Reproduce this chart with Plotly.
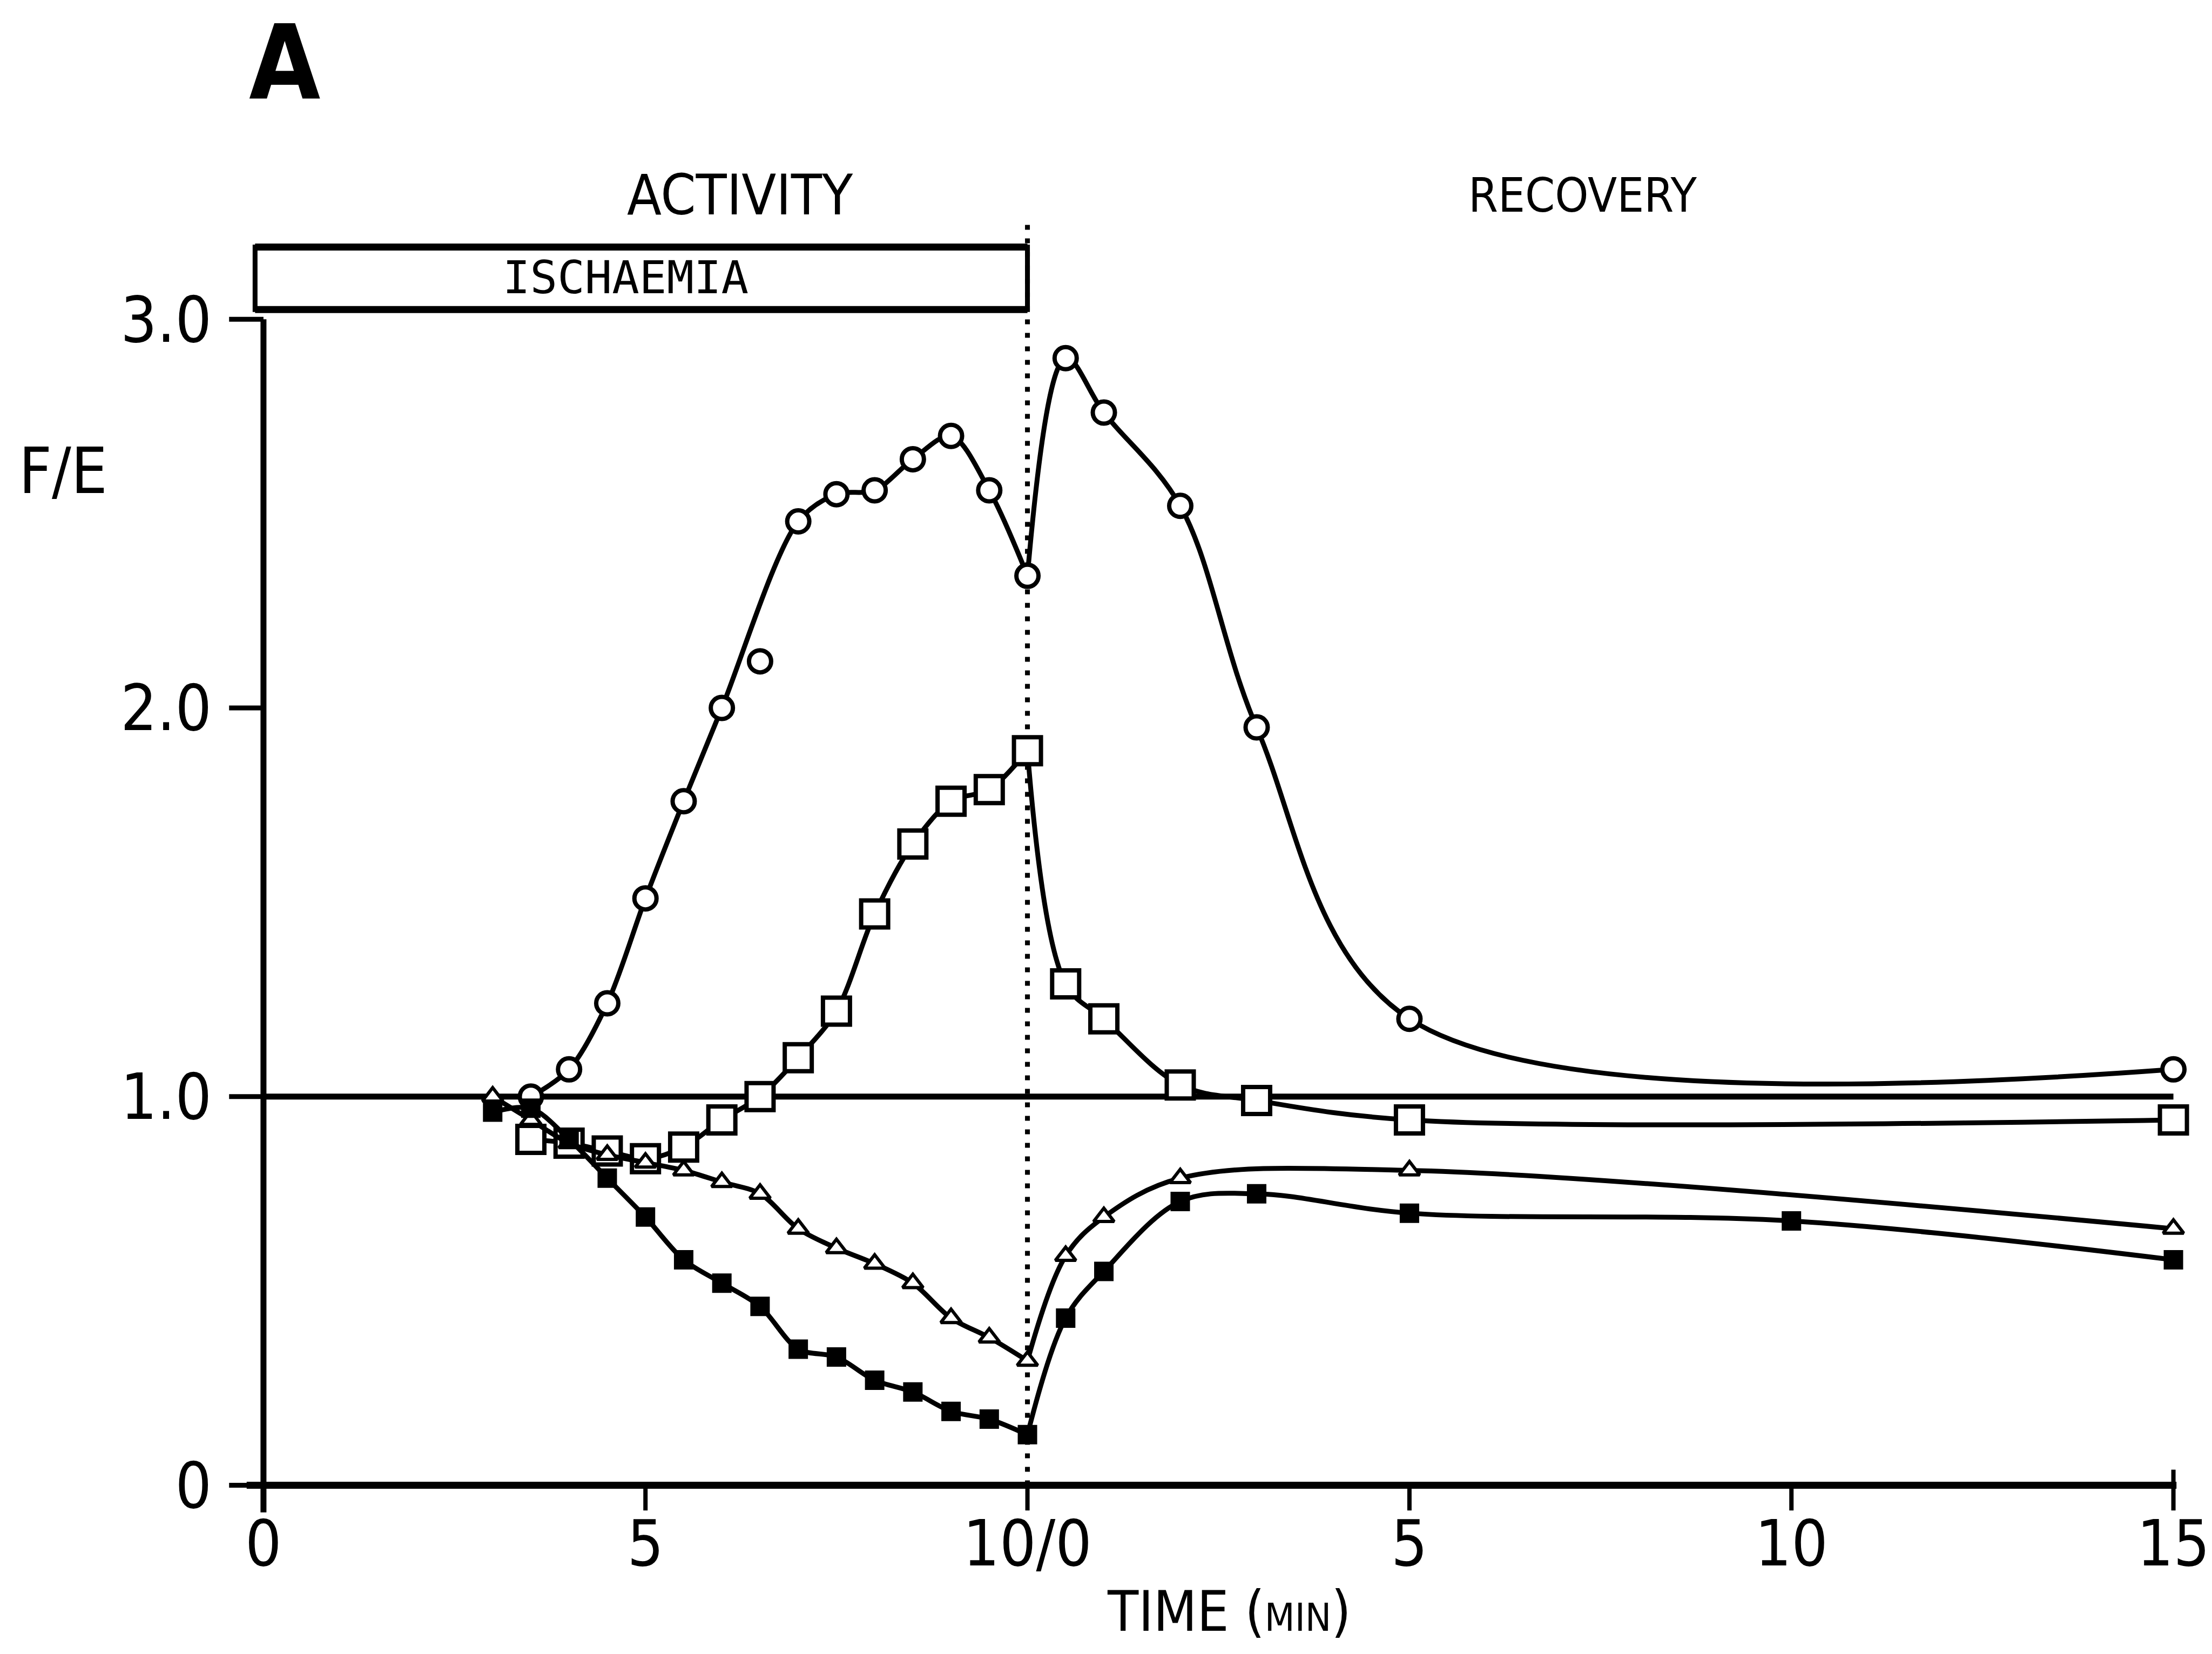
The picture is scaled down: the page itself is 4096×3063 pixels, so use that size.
import plotly.graph_objects as go

# Time axis: 10 min of ischaemia (activity), then the recovery clock restarts at 0
ACTIVITY_LENGTH = 10

X_TICKS = [0, 5, 10, 15, 20, 25]
X_TICK_TEXT = ["0", "5", "10/0", "5", "10", "15"]
Y_TICKS = [0, 1, 2, 3]
Y_TICK_TEXT = ["0", "1.0", "2.0", "3.0"]
REFERENCE_LEVEL = 1.0

# Open circles
CIRCLE_ACT_T = [3.5, 4, 4.5, 5, 5.5, 6, 6.5, 7, 7.5, 8, 8.5, 9, 9.5, 10]
CIRCLE_ACT_FE = [1.00, 1.07, 1.24, 1.51, 1.76, 2.00, 2.12, 2.48, 2.55, 2.56, 2.64, 2.70, 2.56, 2.34]
CIRCLE_REC_T = [0.5, 1, 2, 3, 5, 15]
CIRCLE_REC_FE = [2.90, 2.76, 2.52, 1.95, 1.20, 1.07]
CIRCLE_OFF_CURVE_T = [6.5]   # plotted, but left out of the fitted curve

# Open squares
SQUARE_ACT_T = [3.5, 4, 4.5, 5, 5.5, 6, 6.5, 7, 7.5, 8, 8.5, 9, 9.5, 10]
SQUARE_ACT_FE = [0.89, 0.88, 0.86, 0.84, 0.87, 0.94, 1.00, 1.10, 1.22, 1.47, 1.65, 1.76, 1.79, 1.89]
SQUARE_REC_T = [0.5, 1, 2, 3, 5, 15]
SQUARE_REC_FE = [1.29, 1.20, 1.03, 0.99, 0.94, 0.94]

# Open triangles
TRIANGLE_ACT_T = [3, 3.5, 4, 4.5, 5, 5.5, 6, 6.5, 7, 7.5, 8, 8.5, 9, 9.5, 10]
TRIANGLE_ACT_FE = [1.00, 0.94, 0.88, 0.85, 0.83, 0.81, 0.78, 0.75, 0.66, 0.61, 0.57, 0.52, 0.43, 0.38, 0.32]
TRIANGLE_REC_T = [0.5, 1, 2, 5, 15]
TRIANGLE_REC_FE = [0.59, 0.69, 0.79, 0.81, 0.66]

# Filled squares
FILLED_ACT_T = [3, 3.5, 4, 4.5, 5, 5.5, 6, 6.5, 7, 7.5, 8, 8.5, 9, 9.5, 10]
FILLED_ACT_FE = [0.96, 0.97, 0.89, 0.79, 0.69, 0.58, 0.52, 0.46, 0.35, 0.33, 0.27, 0.24, 0.19, 0.17, 0.13]
FILLED_REC_T = [0.5, 1, 2, 3, 5, 10, 15]
FILLED_REC_FE = [0.43, 0.55, 0.73, 0.75, 0.70, 0.68, 0.58]

NARROW = "Liberation Sans Narrow, Arial Narrow, DejaVu Sans Condensed, Liberation Sans, sans-serif"
MONO = "DejaVu Sans Mono, Liberation Mono, monospace"
INK = "black"
CURVE_W = 9

X_RANGE = [-0.6, 25.3]
Y_RANGE = [-0.08, 3.32]

fig = go.Figure()


def add_series(act_t, act_fe, rec_t, rec_fe, marker, skip=()):
    rec_x = [ACTIVITY_LENGTH + t for t in rec_t]
    # fitted curve during ischaemia
    cx = [t for t in act_t if t not in skip]
    cy = [v for t, v in zip(act_t, act_fe) if t not in skip]
    fig.add_trace(go.Scatter(x=cx, y=cy, mode="lines",
                             line=dict(color=INK, width=CURVE_W, shape="spline", smoothing=0.9),
                             hoverinfo="skip", showlegend=False))
    # fitted curve during recovery, starting from the last ischaemic value
    fig.add_trace(go.Scatter(x=[act_t[-1]] + rec_x, y=[act_fe[-1]] + rec_fe, mode="lines",
                             line=dict(color=INK, width=CURVE_W, shape="spline", smoothing=1.0),
                             hoverinfo="skip", showlegend=False))
    fig.add_trace(go.Scatter(x=list(act_t) + rec_x, y=list(act_fe) + rec_fe, mode="markers",
                             marker=marker, cliponaxis=False, hoverinfo="skip", showlegend=False))


add_series(CIRCLE_ACT_T, CIRCLE_ACT_FE, CIRCLE_REC_T, CIRCLE_REC_FE,
           dict(symbol="circle", size=41, color="white", line=dict(color=INK, width=8)),
           skip=CIRCLE_OFF_CURVE_T)
add_series(SQUARE_ACT_T, SQUARE_ACT_FE, SQUARE_REC_T, SQUARE_REC_FE,
           dict(symbol="square", size=50, color="white", line=dict(color=INK, width=8)))
add_series(TRIANGLE_ACT_T, TRIANGLE_ACT_FE, TRIANGLE_REC_T, TRIANGLE_REC_FE,
           dict(symbol="triangle-up", size=33, color="white", line=dict(color=INK, width=6)))
add_series(FILLED_ACT_T, FILLED_ACT_FE, FILLED_REC_T, FILLED_REC_FE,
           dict(symbol="square", size=33, color=INK, line=dict(color=INK, width=3)))

x_end = X_TICKS[-1]
shapes = [
    # reference level F/E = 1
    dict(type="line", x0=0, x1=x_end, y0=REFERENCE_LEVEL, y1=REFERENCE_LEVEL,
         line=dict(color=INK, width=11), layer="below"),
    # end of ischaemia / start of recovery
    dict(type="line", x0=ACTIVITY_LENGTH, x1=ACTIVITY_LENGTH, y0=0, y1=3.26,
         line=dict(color=INK, width=9, dash="9px,16px"), layer="below"),
    # ischaemia bar
    dict(type="rect", x0=-0.11, x1=ACTIVITY_LENGTH, y0=3.025, y1=3.186,
         line=dict(color=INK, width=9), fillcolor="rgba(0,0,0,0)"),
    dict(type="line", x0=-0.11, x1=ACTIVITY_LENGTH, y0=3.186, y1=3.186, line=dict(color=INK, width=13)),
    dict(type="line", x0=-0.11, x1=ACTIVITY_LENGTH, y0=3.025, y1=3.025, line=dict(color=INK, width=13)),
    # axes
    dict(type="line", x0=0, x1=0, y0=-0.07, y1=Y_TICKS[-1], line=dict(color=INK, width=11)),
    dict(type="line", x0=-0.22, x1=x_end + 0.04, y0=0, y1=0, line=dict(color=INK, width=13)),
]
for yv in Y_TICKS:
    shapes.append(dict(type="line", x0=-0.45, x1=0, y0=yv, y1=yv, line=dict(color=INK, width=9)))
for xv in X_TICKS:
    top = 0.04 if xv == x_end else 0
    shapes.append(dict(type="line", x0=xv, x1=xv, y0=top, y1=-0.065, line=dict(color=INK, width=8)))


def paper_x(x):
    return (x - X_RANGE[0]) / (X_RANGE[1] - X_RANGE[0])


def paper_y(y):
    return (y - Y_RANGE[0]) / (Y_RANGE[1] - Y_RANGE[0])


annotations = [
    dict(text="<b>A</b>", x=paper_x(0.28), y=paper_y(3.66), font=dict(family=NARROW, size=190, color=INK)),
    dict(text="ACTIVITY", x=paper_x(6.24), y=paper_y(3.32), font=dict(family=NARROW, size=104, color=INK)),
    dict(text="RECOVERY", x=paper_x(17.27), y=paper_y(3.32), font=dict(family=NARROW, size=88, color=INK)),
    dict(text="ISCHAEMIA", x=paper_x(4.74), y=paper_y(3.108), font=dict(family=MONO, size=84, color=INK)),
    dict(text="F/E", x=paper_x(-2.62), y=paper_y(2.61), font=dict(family=NARROW, size=118, color=INK)),
    dict(text="TIME (<span style='font-size:72px'>MIN</span>)", x=paper_x(12.64), y=paper_y(-0.325),
         font=dict(family=NARROW, size=104, color=INK)),
]
for a in annotations:
    a.update(xref="paper", yref="paper", showarrow=False, xanchor="center", yanchor="middle")

fig.update_layout(
    width=4096, height=3063,
    margin=dict(l=403, r=29, t=361, b=255, autoexpand=False),
    paper_bgcolor="white", plot_bgcolor="white",
    showlegend=False, hovermode=False,
    shapes=shapes, annotations=annotations,
    xaxis=dict(range=X_RANGE, showgrid=False, zeroline=False, showline=False,
               tickvals=X_TICKS, ticktext=X_TICK_TEXT, ticks="", ticklabelstandoff=-28,
               tickfont=dict(family=NARROW, size=118, color=INK)),
    yaxis=dict(range=Y_RANGE, showgrid=False, zeroline=False, showline=False,
               tickvals=Y_TICKS, ticktext=Y_TICK_TEXT, ticks="", ticklabelstandoff=10,
               tickfont=dict(family=NARROW, size=118, color=INK)),
)

fig.write_html("out.html")
